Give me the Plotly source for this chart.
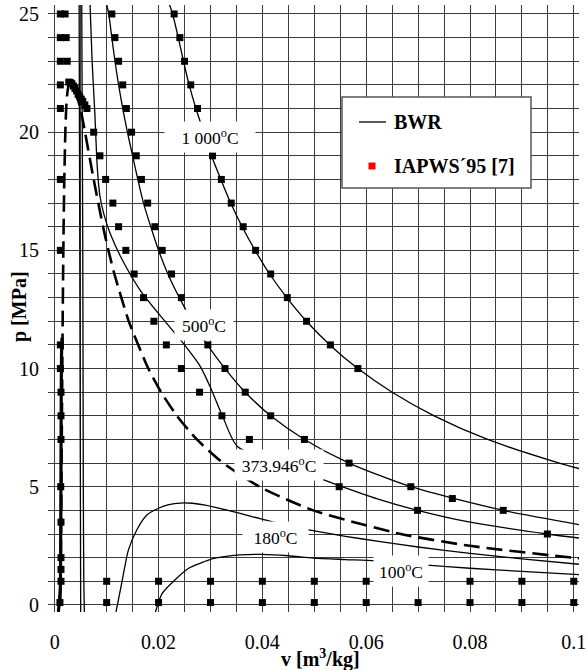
import plotly.graph_objects as go

# ---------------- data (v in m3/kg, p in MPa) ----------------
# BWR isotherms (lines)
bwr1000_v = [0.0221, 0.0227, 0.0238, 0.0248, 0.0259, 0.0272, 0.0287, 0.0302, 0.0320, 0.0339, 0.0361, 0.0386,
             0.0414, 0.0447, 0.0485, 0.0530, 0.0584, 0.0650, 0.0731, 0.0834, 0.0972, 0.1010]
bwr1000_p = [25.4, 25, 24, 23, 22, 21, 20, 19, 18, 17, 16, 15, 14, 13, 12, 11, 10, 9, 8, 7, 6, 5.77]

bwr500_v = [0.0100, 0.0104, 0.0110, 0.0116, 0.0123, 0.0131, 0.0140, 0.0150, 0.0160, 0.0171, 0.0185, 0.0200,
            0.0218, 0.0240, 0.0265, 0.0294, 0.0328, 0.0367, 0.0416, 0.0481, 0.0567, 0.0686, 0.0864, 0.1010]
bwr500_p = [25.4, 25, 24, 23, 22, 21, 20, 19, 18, 17, 16, 15, 14, 13, 12, 11, 10, 9, 8, 7, 6, 5, 4, 3.4]

bwr374_v = [0.0068, 0.0072, 0.0077, 0.0082, 0.0087, 0.0095, 0.0107, 0.0130, 0.0165, 0.0216, 0.0250, 0.0280,
            0.0300, 0.0323, 0.0352, 0.0440, 0.0517, 0.0548, 0.0620, 0.0699, 0.0800, 0.0949, 0.1010]
bwr374_p = [25.4, 23.0, 20.9, 18.5, 17.3, 16.5, 15.7, 14.6, 13.3, 11.9, 11.0, 10.1, 9.2, 8.0, 6.7, 5.9, 5.3,
            5.05, 4.5, 4.0, 3.5, 3.0, 2.83]

bwr180_v = [0.0118, 0.0129, 0.0142, 0.0158, 0.0178, 0.0200, 0.0220, 0.0242, 0.0265, 0.0290, 0.0330, 0.0380,
            0.0430, 0.0489, 0.0560, 0.0627, 0.0700, 0.0800, 0.0900, 0.1010]
bwr180_p = [-0.3, 0.92, 2.33, 3.17, 3.81, 4.09, 4.24, 4.31, 4.30, 4.22, 4.02, 3.74, 3.45, 3.17, 2.90, 2.68,
            2.45, 2.18, 1.95, 1.72]

bwr100_v = [0.0194, 0.0207, 0.0235, 0.0258, 0.0280, 0.0300, 0.0330, 0.0357, 0.0399, 0.0450, 0.0499, 0.0560,
            0.0617, 0.0711, 0.0800, 0.0900, 0.1010]
bwr100_p = [-0.3, 0.49, 1.13, 1.55, 1.76, 1.93, 2.05, 2.12, 2.14, 2.08, 1.98, 1.92, 1.87, 1.69, 1.55, 1.42, 1.28]

bwr_liqA_v = [0.0050, 0.0049, 0.0048, 0.0047]
bwr_liqA_p = [-0.3, 8, 17, 25.4]
bwr_liqB_v = [0.0057, 0.0056, 0.0055, 0.0054, 0.0052]
bwr_liqB_p = [-0.3, 1, 5, 15, 25.4]

liq_thick_v = [0.0007, 0.0009, 0.00106, 0.00115, 0.0012, 0.00125, 0.0013, 0.0014]
liq_thick_p = [-0.3, 0.2, 0.7, 3, 6, 9, 10.5, 11.3]

# saturation curve (dashed)
sat_v = [0.001043, 0.001127, 0.001177, 0.001252, 0.001319, 0.001384, 0.001453, 0.001527, 0.001611, 0.001710,
         0.001840, 0.002040, 0.002207, 0.00240, 0.00270, 0.003106, 0.00357, 0.00430, 0.00495, 0.00583, 0.00750,
         0.00931, 0.01034, 0.01149, 0.01426, 0.01803, 0.02049, 0.02353, 0.02738, 0.03245, 0.03945, 0.04978,
         0.06666, 0.07995, 0.09959, 0.1022]
sat_p = [0.1, 1, 2, 4, 6, 8, 10, 12, 14, 16, 18, 20, 21, 21.6, 22, 22.064, 22, 21.5, 21, 20, 18, 16, 15, 14, 12,
         10, 9, 8, 7, 6, 5, 4, 3, 2.5, 2, 1.95]

# IAPWS'95 points (markers)
iap1000_v = [0.0230, 0.0241, 0.0250, 0.0262, 0.0275, 0.0289, 0.0304, 0.0321, 0.0340, 0.0363, 0.0387, 0.0416,
             0.0448, 0.0485, 0.0531, 0.0584]
iap1000_p = [25, 24, 23, 22, 21, 20, 19, 18, 17, 16, 15, 14, 13, 12, 11, 10]

iap500_v = [0.0110, 0.0116, 0.0123, 0.0131, 0.0138, 0.0148, 0.0157, 0.0167, 0.0179, 0.0193, 0.0207, 0.0225,
            0.0244, 0.0267, 0.0295, 0.0328, 0.0367, 0.0416, 0.0481, 0.0567, 0.0686, 0.0766, 0.0864]
iap500_p = [25, 24, 23, 22, 21, 20, 19, 18, 17, 16, 15, 14, 13, 12, 11, 10, 9, 8, 7, 6, 5, 4.5, 4]

iap374_v = [0.0020, 0.0022, 0.0024, 0.0027, 0.0030, 0.0033, 0.0036, 0.0039, 0.0042, 0.0045, 0.0048, 0.0051,
            0.0054, 0.0058, 0.0062, 0.0075, 0.0087, 0.0098, 0.0112, 0.0123, 0.0137, 0.0153, 0.0171, 0.0191,
            0.0215, 0.0244, 0.0279, 0.0322, 0.0375, 0.0455, 0.0548, 0.0699, 0.0949]
iap374_p = [25, 24, 23, 22.12, 22.1, 22.05, 21.95, 21.85, 21.75, 21.6, 21.5, 21.4, 21.3, 21.15, 21.0, 20, 19, 18,
            17, 16, 15, 14, 13, 12, 11, 10, 9, 8, 7, 6, 5, 4, 3]

iapliq_v = [0.00108, 0.00108, 0.00108, 0.00108, 0.00108, 0.00108, 0.00108, 0.00108, 0.00108, 0.0012, 0.0012,
            0.0012, 0.00115, 0.0012, 0.0012, 0.0012, 0.0012, 0.0010]
iapliq_p = [25, 24, 23, 22, 21, 18, 15, 11, 10, 9, 8, 7, 5, 3.5, 2, 1.5, 1, 0.1]

iap180_v = [0.01, 0.02, 0.03, 0.04, 0.05, 0.06, 0.07, 0.08, 0.09, 0.10]
iap180_p = [1.0] * 10
iap100_v = [0.01, 0.02, 0.03, 0.04, 0.05, 0.06, 0.07, 0.08, 0.09, 0.10]
iap100_p = [0.1] * 10

# curve labels
label_text = ["1 000<sup>o</sup>C", "500<sup>o</sup>C", "373.946<sup>o</sup>C", "180<sup>o</sup>C", "100<sup>o</sup>C"]
label_v = [0.0299, 0.0288, 0.0432, 0.0425, 0.0667]
label_p = [19.80, 11.84, 5.92, 2.88, 1.45]
label_w = [90, 58, 88, 65, 54]

x_ticks = [0, 0.02, 0.04, 0.06, 0.08, 0.1]
y_ticks = [0, 5, 10, 15, 20, 25]

# ---------------- figure ----------------
FONT = "Liberation Serif"
fig = go.Figure()

line_style = dict(color="black", width=1.3, shape="spline", smoothing=0.7)
for vv, pp in [(bwr1000_v, bwr1000_p), (bwr500_v, bwr500_p), (bwr374_v, bwr374_p), (bwr180_v, bwr180_p),
               (bwr100_v, bwr100_p), (bwr_liqA_v, bwr_liqA_p), (bwr_liqB_v, bwr_liqB_p)]:
    fig.add_trace(go.Scatter(x=vv, y=pp, mode="lines", line=line_style, showlegend=False, hoverinfo="skip"))

fig.add_trace(go.Scatter(x=liq_thick_v, y=liq_thick_p, mode="lines",
                         line=dict(color="black", width=3.2, shape="spline", smoothing=0.6),
                         showlegend=False))
fig.add_trace(go.Scatter(x=sat_v, y=sat_p, mode="lines",
                         line=dict(color="black", width=2.6, dash="16px,7px", shape="spline", smoothing=0.6),
                         showlegend=False))

marker_style = dict(symbol="square", size=7, color="black")
for vv, pp in [(iap1000_v, iap1000_p), (iap500_v, iap500_p), (iap374_v, iap374_p), (iapliq_v, iapliq_p),
               (iap180_v, iap180_p), (iap100_v, iap100_p)]:
    fig.add_trace(go.Scatter(x=vv, y=pp, mode="markers", marker=marker_style, showlegend=False))

for t, xv, yv, w in zip(label_text, label_v, label_p, label_w):
    fig.add_annotation(x=xv, y=yv, xref="x", yref="y", text=t, showarrow=False, bgcolor="white",
                       width=w, height=30, borderpad=0, font=dict(family=FONT, size=17.5, color="black"))

# manual legend (paper coordinates; plot area 531 x 607 px)
def px(xp):
    return (xp - 48) / 531.0

def py(yp):
    return (612 - yp) / 607.0

fig.add_shape(type="rect", xref="paper", yref="paper", x0=px(342), x1=px(531), y0=py(188), y1=py(97),
              fillcolor="white", line=dict(color="#555555", width=1.5), layer="above")
fig.add_shape(type="line", xref="paper", yref="paper", x0=px(359), x1=px(386), y0=py(122), y1=py(122),
              line=dict(color="black", width=1.3), layer="above")
fig.add_shape(type="rect", xref="paper", yref="paper", x0=px(368.5), x1=px(375.5), y0=py(169.5), y1=py(162.5),
              fillcolor="#ff0000", line=dict(width=0), layer="above")
fig.add_annotation(x=px(392), y=py(122), xref="paper", yref="paper", text="<b>BWR</b>", showarrow=False,
                   xanchor="left", yanchor="middle", font=dict(family=FONT, size=20, color="black"))
fig.add_annotation(x=px(392), y=py(166), xref="paper", yref="paper", text="<b>IAPWS´95 [7]</b>",
                   showarrow=False, xanchor="left", yanchor="middle", font=dict(family=FONT, size=20, color="black"))

# axis titles
fig.add_annotation(x=px(19), y=py(307), xref="paper", yref="paper", text="<b>p [MPa]</b>", textangle=-90,
                   showarrow=False, xanchor="center", yanchor="middle", font=dict(family=FONT, size=20, color="black"))
fig.add_annotation(x=px(320), y=py(658), xref="paper", yref="paper", text="<b>v [m<sup>3</sup>/kg]</b>",
                   showarrow=False, xanchor="center", yanchor="middle", font=dict(family=FONT, size=20, color="black"))

grid_col = "#3c3c3c"
fig.update_xaxes(range=[-0.0013, 0.1010], tickvals=x_ticks, ticktext=["0", "0.02", "0.04", "0.06", "0.08", "0.1"],
                 showgrid=True, gridcolor=grid_col, gridwidth=1.1, zeroline=False, showline=False, ticks="",
                 ticklabelstandoff=16,
                 minor=dict(dtick=0.005, tick0=0, showgrid=True, gridcolor=grid_col, gridwidth=1.1),
                 tickfont=dict(family=FONT, size=20, color="black"))
fig.update_yaxes(range=[-0.3, 25.38], tickvals=y_ticks, showgrid=True, gridcolor=grid_col, gridwidth=1.1,
                 zeroline=False, showline=False, ticks="", ticklabelstandoff=8,
                 minor=dict(dtick=1, tick0=0, showgrid=True, gridcolor=grid_col, gridwidth=1.1),
                 tickfont=dict(family=FONT, size=20, color="black"))

fig.update_layout(width=587, height=670, margin=dict(l=48, r=8, t=5, b=58, autoexpand=False),
                  plot_bgcolor="white", paper_bgcolor="white", showlegend=False,
                  font=dict(family=FONT, color="black"))

fig.write_html("out.html")
